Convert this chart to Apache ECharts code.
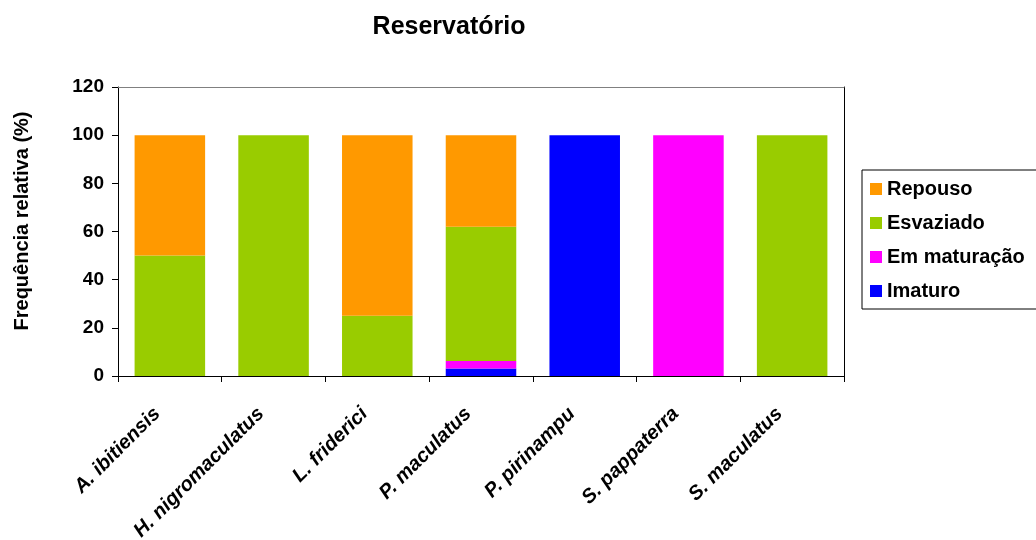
<!DOCTYPE html>
<html>
<head>
<meta charset="utf-8">
<script src="https://cdn.jsdelivr.net/npm/echarts@6/dist/echarts.min.js"></script>
<style>
  html, body { margin: 0; padding: 0; background: #fff; }
  #chart { width: 1036px; height: 540px; }
</style>
</head>
<body>
<div id="chart"></div>
<script>
// Reproductive stage frequency (%) per species, reservoir samples
const species = ['A. ibitiensis', 'H. nigromaculatus', 'L. friderici', 'P. maculatus', 'P. pirinampu', 'S. pappaterra', 'S. maculatus'];
const imaturo     = [0, 0, 0, 3.1, 100, 0, 0];
const emMaturacao = [0, 0, 0, 3.1, 0, 100, 0];
const esvaziado   = [50, 100, 25, 55.8, 0, 0, 100];
const repouso     = [50, 0, 75, 38, 0, 0, 0];
const yTicks = [0, 20, 40, 60, 80, 100, 120];

const FONT = '"Liberation Sans", Arial, sans-serif';
const chart = echarts.init(document.getElementById('chart'));

function bar(name, data, color) {
  return {
    name: name, type: 'bar', stack: 'total', data: data,
    barCategoryGap: '32%',
    itemStyle: { color: color },
    emphasis: { disabled: true }
  };
}

chart.setOption({
  animation: false,
  backgroundColor: '#ffffff',
  title: {
    text: 'Reservatório',
    left: 444, top: 10, textAlign: 'center',
    textStyle: { fontFamily: FONT, fontWeight: 'bold', fontSize: 25, color: '#000' }
  },
  grid: { left: 118, right: 192, top: 87, bottom: 164, containLabel: false, outerBoundsMode: 'none' },
  legend: {
    orient: 'vertical', left: 862, top: 170,
    data: ['Repouso', 'Esvaziado', 'Em maturação', 'Imaturo'],
    itemWidth: 12, itemHeight: 12, itemGap: 14,
    padding: [9, 50, 8, 8],
    borderColor: '#000', borderWidth: 1,
    icon: 'rect',
    textStyle: { fontFamily: FONT, fontWeight: 'bold', fontSize: 20, color: '#000', lineHeight: 20 }
  },
  xAxis: [{
    type: 'category', data: species,
    axisLine: { lineStyle: { color: '#000', width: 1 } },
    axisTick: { show: true, length: 6, alignWithLabel: false, lineStyle: { color: '#000' } },
    axisLabel: {
      interval: 0, rotate: 45, margin: 22, padding: [0, 18, 0, 0],
      fontFamily: FONT, fontWeight: 'bold', fontStyle: 'italic', fontSize: 20, color: '#000'
    }
  }, {
    type: 'category', position: 'top', data: species,
    axisLine: { onZero: false, lineStyle: { color: '#808080', width: 1 } },
    axisTick: { show: false }, axisLabel: { show: false }
  }],
  yAxis: [{
    type: 'value', min: 0, max: 120, interval: 20,
    name: 'Frequência relativa (%)', nameLocation: 'middle', nameGap: 86, nameRotate: 90,
    nameTextStyle: { fontFamily: FONT, fontWeight: 'bold', fontSize: 20, color: '#000', padding: [0, 0, 0, 21] },
    axisLine: { show: true, lineStyle: { color: '#000', width: 1 } },
    axisTick: { show: true, length: 6, lineStyle: { color: '#000' } },
    axisLabel: {
      margin: 14, fontFamily: FONT, fontWeight: 'bold', fontSize: 19, color: '#000',
      formatter: function (v) { return yTicks.indexOf(v) >= 0 ? String(v) : ''; }
    },
    splitLine: { show: false }
  }, {
    type: 'value', min: 0, max: 120, interval: 20, position: 'right',
    axisLine: { show: true, onZero: false, lineStyle: { color: '#000', width: 1 } },
    axisTick: { show: false }, axisLabel: { show: false }, splitLine: { show: false }
  }],
  series: [
    bar('Imaturo', imaturo, '#0000FF'),
    bar('Em maturação', emMaturacao, '#FF00FF'),
    bar('Esvaziado', esvaziado, '#99CC00'),
    bar('Repouso', repouso, '#FF9900')
  ]
});
</script>
</body>
</html>
